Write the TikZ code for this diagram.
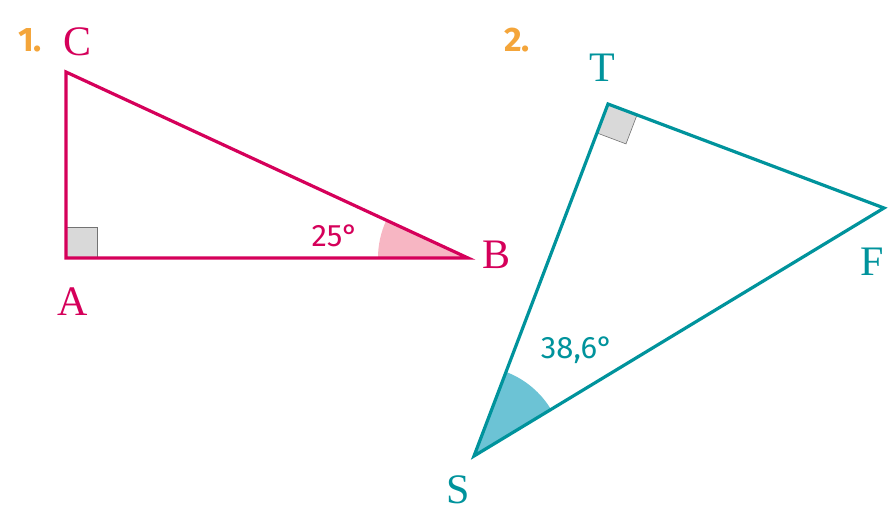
\documentclass[tikz,border=0pt]{standalone}
\usepackage{fontspec}
\setmainfont{Liberation Serif}
\newfontfamily\numfont{Fira Sans}
\usetikzlibrary{calc,angles}
\definecolor{crim}{HTML}{D5005A}
\definecolor{teal2}{HTML}{00939C}
\definecolor{orng}{HTML}{F4A53A}
\definecolor{pinkf}{HTML}{F7B6C3}
\definecolor{tealf}{HTML}{6CC3D5}
\tikzset{
 sq/.style={fill=black!15,draw=black!55,line width=0.6pt},
 tri/.style={line width=3.2pt,line join=miter},
 let/.style={font=\fontsize{42}{42}\selectfont},
 num/.style={font=\numfont\fontsize{31}{31}\selectfont},
 idx/.style={font=\numfont\bfseries\fontsize{34}{34}\selectfont,text=orng}
}
\begin{document}
\begin{tikzpicture}[x=1pt,y=-1pt]
\useasboundingbox (0,0) rectangle (894,514);
% triangle 1
\coordinate (C) at (66,72); \coordinate (A) at (66,258); \coordinate (B) at (468,258);
\pic[fill=pinkf,draw=none,angle radius=90pt] {angle=C--B--A};
\draw[sq] (A) rectangle ++(31,-31);
\draw[tri,crim] (C) -- (A) -- (B) -- cycle;
\node[idx] (n1) at (30,40) {1.};
\node[let,text=crim] (lC) at (78,42) {C};
\node[let,text=crim] (lA) at (73,302) {A};
\node[let,text=crim] (lB) at (497,255) {B};
\node[num,text=crim] (a1) at (335,236) {25°};
% triangle 2
\coordinate (T) at (608,104); \coordinate (F) at (884,208); \coordinate (S) at (474,456);
\pic[fill=tealf,draw=none,angle radius=90pt] {angle=F--S--T};
\coordinate (t1) at ($(T)!31pt!(F)$);
\coordinate (t2) at ($(T)!31pt!(S)$);
\draw[sq] (T) -- (t1) -- ($(t1)+(t2)-(T)$) -- (t2) -- cycle;
\draw[tri,teal2] (T) -- (F) -- (S) -- cycle;
\node[idx] (n2) at (517,40) {2.};
\node[let,text=teal2] (lT) at (602,68) {T};
\node[let,text=teal2] (lF) at (872,262) {F};
\node[let,text=teal2] (lS) at (458,490) {S};
\node[num,text=teal2] (a2) at (577,350) {38,6°};
\end{tikzpicture}
\end{document}
